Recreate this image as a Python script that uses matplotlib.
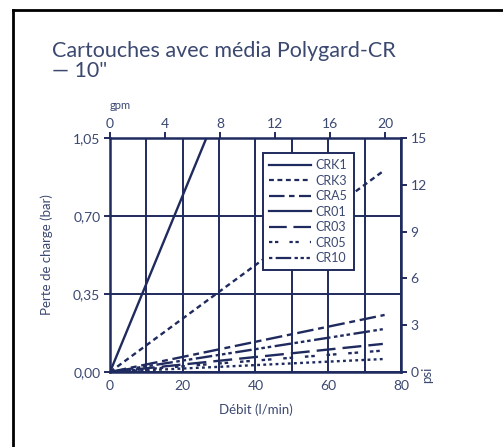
import matplotlib.pyplot as plt
from matplotlib.lines import Line2D

# data: pressure drop (bar) vs flow (l/min), straight lines from 0
series = ["CRK1", "CRK3", "CRA5", "CR01", "CR03", "CR05", "CR10"]
flow_end = [26.5, 75, 75.5, 75, 75, 75, 75]
drop_end = [1.05, 0.90, 0.256, 0.058, 0.126, 0.096, 0.192]

gpm_ticks = [0, 4, 8, 12, 16, 20]
psi_ticks = [0, 3, 6, 9, 12, 15]
bar_ticks = [0.0, 0.35, 0.70, 1.05]
bar_labels = ["0,00", "0,35", "0,70", "1,05"]
flow_ticks = [0, 20, 40, 60, 80]

navy = "#1f2a5e"
txt = "#3b4870"

legend_styles = {
    "CRK1": "-",
    "CRK3": (0, (2.2, 1.6)),
    "CRA5": (0, (7, 2, 2.5, 2)),
    "CR01": "-",
    "CR03": (0, (8, 3)),
    "CR05": (0, (1.5, 1.2, 1.5, 5)),
    "CR10": (0, (1.5, 1.5, 7, 1.5, 1.5, 1.2, 1.5, 1.2)),
}
# how the lines look in the plot itself
plot_styles = dict(legend_styles)
plot_styles["CR01"] = (0, (1.2, 1.4))

plt.rcParams['font.family'] = ['Lato', 'DejaVu Sans']

fig = plt.figure(figsize=(5.03, 4.47), dpi=100)
ax = fig.add_axes([0.2187, 0.1678, 0.5785, 0.5235])

for name, xe, ye in zip(series, flow_end, drop_end):
    ax.plot([0, xe], [0, ye], color=navy, lw=1.7, ls=plot_styles[name],
            solid_capstyle='butt', dash_capstyle='butt')

ax.set_xlim(0, 80)
ax.set_ylim(0, 1.05)
ax.set_xticks(flow_ticks)
ax.set_xticks(range(0, 81, 10), minor=True)
ax.set_yticks(bar_ticks)
ax.set_yticklabels(bar_labels)
ax.grid(True, which='both', color=navy, lw=1.4)
ax.set_axisbelow(True)
ax.tick_params(axis='x', which='both', length=0, pad=6, labelsize=10, labelcolor=txt)
ax.tick_params(axis='y', length=4, width=1.4, color=navy, pad=3, labelsize=10, labelcolor=txt)
for s in ax.spines.values():
    s.set_color(navy)
    s.set_linewidth(1.8)

ax.set_xlabel("Débit (l/min)", fontsize=9.5, color=txt, labelpad=8)
ax.set_ylabel("Perte de charge (bar)", fontsize=9.5, color=txt, labelpad=14)

# top axis in gpm
top = ax.secondary_xaxis('top', functions=(lambda x: x / 3.785, lambda g: g * 3.785))
top.set_xticks(gpm_ticks)
top.tick_params(length=4, width=1.4, color=navy, pad=2, labelsize=10, labelcolor=txt)
top.spines['top'].set_visible(False)
ax.text(0, 1.115, "gpm", transform=ax.transAxes, fontsize=8, color=txt, va='bottom')

# right axis in psi
right = ax.secondary_yaxis('right', functions=(lambda b: b * 15 / 1.05, lambda p: p * 1.05 / 15))
right.set_yticks(psi_ticks)
right.tick_params(length=4, width=1.4, color=navy, pad=3, labelsize=10, labelcolor=txt)
right.spines['right'].set_visible(False)
ax.text(1.09, -0.01, "psi", transform=ax.transAxes, fontsize=9.5, color=txt,
        rotation=90, va='center', ha='center')

handles = [Line2D([], [], color=navy, lw=1.6, ls=legend_styles[n]) for n in series]
leg = ax.legend(handles, series, loc='upper left', bbox_to_anchor=(0.526, 0.936),
                fontsize=9, frameon=True, fancybox=False, framealpha=1,
                edgecolor=navy, handlelength=3.3, handletextpad=0.4,
                labelspacing=0.28, borderpad=0.5, borderaxespad=0)
leg.get_frame().set_linewidth(1.4)
for t in leg.get_texts():
    t.set_color(txt)

fig.text(52 / 503, 1 - 41 / 447, "Cartouches avec média Polygard-CR\n\u2014 10\"",
         fontsize=15.5, color=txt, va='top', ha='left', linespacing=1.0)

# outer frame (only top and left edges fall inside the picture)
fig.add_artist(Line2D([13 / 503, 13 / 503], [0, 1 - 10 / 447], color='black', lw=2,
                      transform=fig.transFigure))
fig.add_artist(Line2D([13 / 503, 1], [1 - 10 / 447, 1 - 10 / 447], color='black', lw=2,
                      transform=fig.transFigure))

fig.savefig("out.png", dpi=100)
